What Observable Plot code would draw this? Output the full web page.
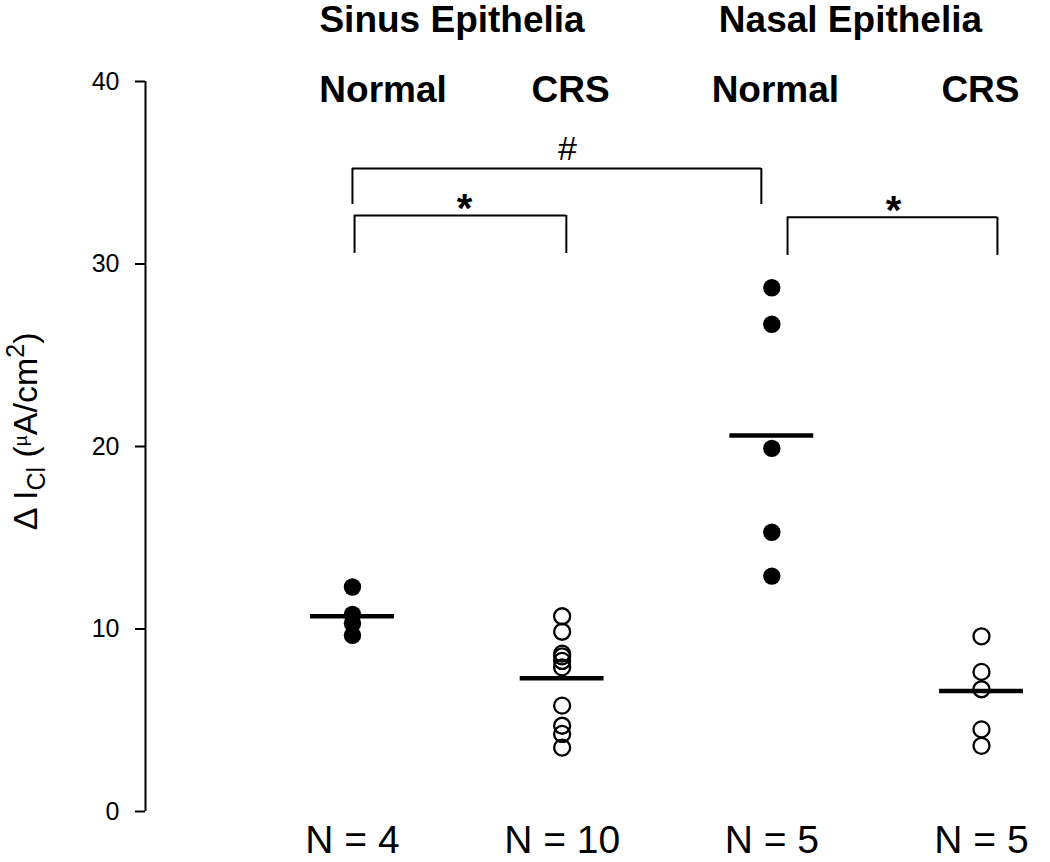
<!DOCTYPE html>
<html><head><meta charset="utf-8">
<script src="https://cdn.jsdelivr.net/npm/d3@7"></script>
<script src="https://cdn.jsdelivr.net/npm/@observablehq/plot@0.6"></script>
<style>body{margin:0;background:#fff} #chart svg{display:block}</style>
</head><body><div id="chart"></div>
<script>
// ---- data ----
const groups = ["Sinus Normal", "Sinus CRS", "Nasal Normal", "Nasal CRS"];
const groupPos = [1, 2, 3, 4];
const sinusNormal = [12.3, 10.8, 10.3, 9.65];
const sinusCRS = [10.7, 9.85, 8.65, 8.5, 8.25, 7.9, 5.8, 4.7, 4.25, 3.5];
const nasalNormal = [28.7, 26.7, 19.9, 15.3, 12.9];
const nasalCRS = [9.6, 7.65, 6.7, 4.5, 3.6];
const means = [10.7, 7.3, 20.6, 6.6];
const filled = [true, false, true, false];
const nLabels = ["N = 4", "N = 10", "N = 5", "N = 5"];
const condLabels = ["Normal", "CRS", "Normal", "CRS"];
const condLabelPos = [1.146, 2.04, 3.017, 3.995];
const tissueLabels = ["Sinus Epithelia", "Nasal Epithelia"];
const tissueLabelPos = [1.475, 3.375];
const yTicks = [0, 10, 20, 30, 40];
// significance brackets
const bracketLabels = ["#", "*", "*"];
const bracketX1 = [1, 1.01, 3.075];
const bracketX2 = [2.95, 2.02, 4.076];
const bracketTop = [35.23, 32.66, 32.56];
const bracketBottom = [33.26, 30.58, 30.47];
const bracketLabelX = [2.025, 1.535, 3.58];
const bracketLabelY = [36.3, 33.5, 33.4];

// ---- tables built from the arrays ----
const series = [sinusNormal, sinusCRS, nasalNormal, nasalCRS];
const points = series.flatMap((vals, i) => vals.map(v => ({group: groups[i], x: groupPos[i], y: v, filled: filled[i]})));
const meanData = groups.map((g, i) => ({group: g, x: groupPos[i], y: means[i]}));
const brackets = bracketLabels.map((l, i) => ({label: l, x1: bracketX1[i], x2: bracketX2[i], top: bracketTop[i], bottom: bracketBottom[i], lx: bracketLabelX[i], ly: bracketLabelY[i]}));
const condData = condLabels.map((l, i) => ({label: l, x: condLabelPos[i]}));
const tissueData = tissueLabels.map((l, i) => ({label: l, x: tissueLabelPos[i]}));
const nData = nLabels.map((l, i) => ({label: l, x: groupPos[i]}));

const xDomain = [0.013, 4.31];
const halfW = 0.2;
const font = "'Liberation Sans', Arial, Helvetica, sans-serif";

const yLabelMark = (index, scales, values, dims) => {
  const g = d3.create("svg:g");
  const t = g.append("text")
    .attr("transform", `translate(${dims.marginLeft - 108},${scales.y(20.8)}) rotate(-90)`)
    .attr("text-anchor", "middle")
    .attr("font-family", font)
    .attr("font-size", 34)
    .attr("fill", "black");
  t.append("tspan").text("\u0394 I");
  t.append("tspan").attr("dy", 8).attr("font-size", 25).text("Cl");
  t.append("tspan").attr("dy", -8).text(" (");
  t.append("tspan").attr("dy", -10).attr("font-size", 19).text("\u00b5");
  t.append("tspan").attr("dy", 10).text("A/cm");
  t.append("tspan").attr("dy", -13).attr("font-size", 25).text("2");
  t.append("tspan").attr("dy", 13).text(")");
  return g.node();
};

const chart = Plot.plot({
  width: 1050,
  height: 862,
  marginLeft: 145,
  marginRight: 4,
  marginTop: 81,
  marginBottom: 51,
  style: {fontFamily: font, background: "white", color: "black", overflow: "visible"},
  x: {domain: xDomain, axis: null},
  y: {domain: [0, 40], axis: null},
  marks: [
    Plot.axisY({ticks: yTicks, tickSize: 10, tickPadding: 16, fontSize: 25, strokeWidth: 2, label: null}),
    Plot.ruleX([xDomain[0]], {y1: 0, y2: 40, strokeWidth: 2}),
    yLabelMark,
    // brackets
    Plot.ruleY(brackets, {y: "top", x1: "x1", x2: "x2", strokeWidth: 2}),
    Plot.ruleX(brackets, {x: "x1", y1: "top", y2: "bottom", strokeWidth: 2}),
    Plot.ruleX(brackets, {x: "x2", y1: "top", y2: "bottom", strokeWidth: 2}),
    Plot.text(brackets.filter(d => d.label === "#"), {x: "lx", y: "ly", text: "label", fontSize: 34}),
    Plot.text(brackets.filter(d => d.label === "*"), {x: "lx", y: "ly", text: "label", fontSize: 40, fontWeight: "bold", dy: 9}),
    // points
    Plot.dot(points.filter(d => d.filled), {x: "x", y: "y", r: 8.7, fill: "black", stroke: "none"}),
    Plot.dot(points.filter(d => !d.filled), {x: "x", y: "y", r: 8, fill: "none", stroke: "black", strokeWidth: 2.3}),
    // mean lines
    Plot.ruleY(meanData, {y: "y", x1: d => d.x - halfW, x2: d => d.x + halfW, strokeWidth: 4.5}),
    // headings
    Plot.text(tissueData, {x: "x", y: 42.7, text: "label", fontSize: 37, fontWeight: "bold", lineAnchor: "bottom"}),
    Plot.text(condData, {x: "x", y: 38.9, text: "label", fontSize: 37, fontWeight: "bold", lineAnchor: "bottom"}),
    Plot.text(nData, {x: "x", y: -2.3, text: "label", fontSize: 39, lineAnchor: "bottom"})
  ]
});
document.getElementById("chart").append(chart);
</script>
</body></html>
